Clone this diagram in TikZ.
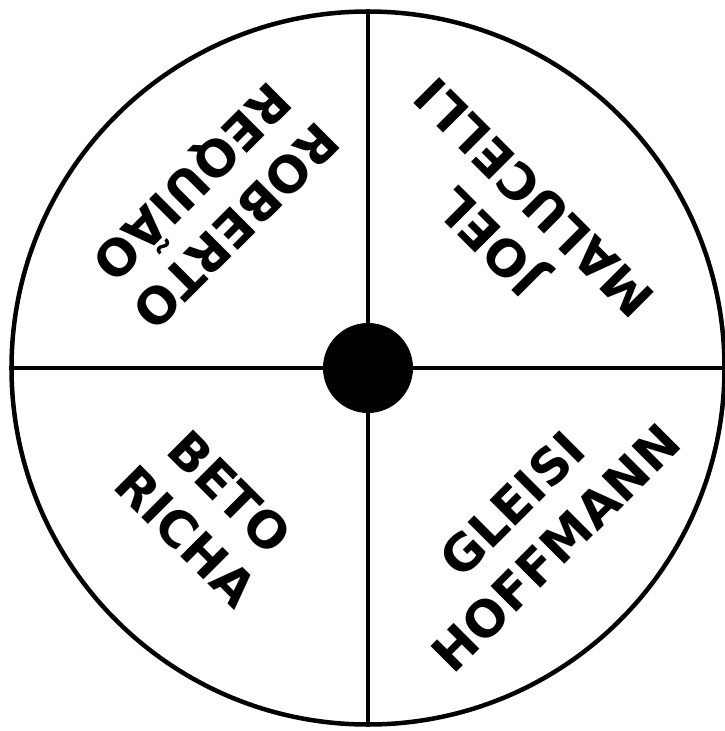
\documentclass[tikz,border=0pt]{standalone}
\usepackage{fontspec}
\setmainfont{DejaVu Sans}

\begin{document}
\begin{tikzpicture}[x=1pt,y=-1pt,line width=4.5pt]
\tikzset{nome/.style={font=\fontsize{50}{62}\selectfont\bfseries, align=center, inner sep=0pt}}
\useasboundingbox (0,0) rectangle (724,731);

\node[circle, draw, minimum size=713pt, inner sep=0pt] (C) at (368,368) {};

\draw (C.north) -- (C.south);
\draw (C.west) -- (C.east);

\node[circle, fill=black, minimum size=90pt, inner sep=0pt] (O) at (C.center) {};

\node[nome, rotate=225] (A) at (212,202) {ROBERTO\\REQUIÃO};
\node[nome, rotate=135] (B) at (512,220) {JOEL\\MALUCELLI};
\node[nome, rotate=-45] (D) at (208,514) {BETO\\RICHA};
\node[nome, rotate=45] (E) at (534,526) {GLEISI\\HOFFMANN};
\end{tikzpicture}
\end{document}
